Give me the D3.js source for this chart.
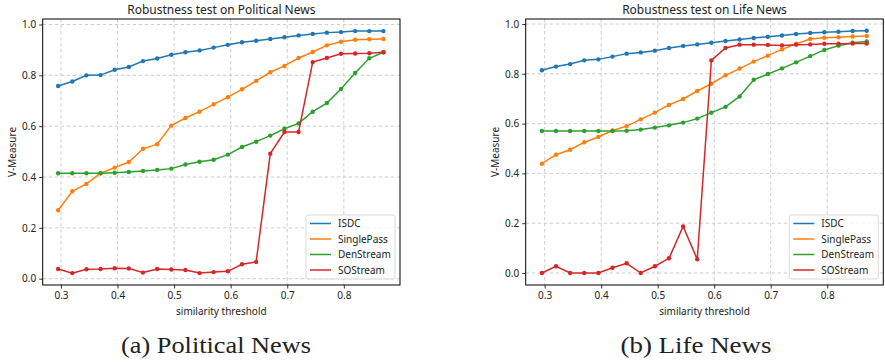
<!DOCTYPE html>
<html><head><meta charset="utf-8">
<script src="https://cdn.jsdelivr.net/npm/d3@7"></script>
<style>body{margin:0;background:#fff}svg{display:block}</style>
</head><body>
<svg id="c" width="885" height="362"></svg>
<script>
const thresholds = [0.295,0.32,0.345,0.37,0.395,0.42,0.445,0.47,0.495,0.52,0.545,0.57,0.595,0.62,0.645,0.67,0.695,0.72,0.745,0.77,0.795,0.82,0.845,0.87];
const seriesNames = ["ISDC","SinglePass","DenStream","SOStream"];
const colors = ["#1f77b4","#ff7f0e","#2ca02c","#d62728"];
const xTicks = [0.3,0.4,0.5,0.6,0.7,0.8];
const yTicks = [0.0,0.2,0.4,0.6,0.8,1.0];

const politicalISDC = [0.758,0.776,0.800,0.801,0.822,0.833,0.856,0.866,0.881,0.891,0.898,0.909,0.920,0.930,0.936,0.943,0.950,0.957,0.963,0.968,0.970,0.974,0.974,0.974];
const politicalSinglePass = [0.269,0.344,0.373,0.415,0.437,0.459,0.511,0.529,0.602,0.632,0.657,0.686,0.714,0.745,0.778,0.812,0.837,0.868,0.892,0.918,0.932,0.940,0.942,0.943];
const politicalDenStream = [0.415,0.415,0.415,0.415,0.417,0.420,0.424,0.428,0.433,0.449,0.460,0.468,0.488,0.518,0.539,0.563,0.590,0.611,0.657,0.691,0.746,0.809,0.867,0.891];
const politicalSOStream = [0.038,0.022,0.037,0.038,0.041,0.040,0.024,0.038,0.036,0.034,0.022,0.026,0.029,0.057,0.066,0.492,0.577,0.577,0.852,0.868,0.885,0.886,0.887,0.891];

const lifeISDC = [0.814,0.829,0.839,0.854,0.858,0.869,0.881,0.886,0.893,0.904,0.912,0.918,0.925,0.932,0.938,0.944,0.949,0.954,0.960,0.964,0.967,0.969,0.972,0.973];
const lifeSinglePass = [0.439,0.475,0.495,0.525,0.546,0.572,0.590,0.617,0.644,0.675,0.699,0.731,0.760,0.794,0.821,0.849,0.873,0.898,0.920,0.940,0.945,0.947,0.950,0.952];
const lifeDenStream = [0.570,0.570,0.570,0.570,0.570,0.570,0.571,0.576,0.584,0.593,0.604,0.620,0.644,0.667,0.709,0.776,0.799,0.822,0.846,0.871,0.896,0.913,0.925,0.930];
const lifeSOStream = [0.000,0.027,0.000,0.000,0.000,0.021,0.039,0.000,0.027,0.059,0.187,0.055,0.854,0.904,0.917,0.917,0.916,0.914,0.917,0.918,0.921,0.921,0.922,0.922];

const panels = [
  {title:"Robustness test on Political News", caption:"(a) Political News", capX:216, capW:190,
   series:[politicalISDC,politicalSinglePass,politicalDenStream,politicalSOStream],
   left:42.7,right:400,top:19,bottom:285,xd:[0.2677,0.8993],yd:[-0.0248,1.0216]},
  {title:"Robustness test on Life News", caption:"(b) Life News", capX:696, capW:151,
   series:[lifeISDC,lifeSinglePass,lifeDenStream,lifeSOStream],
   left:525.7,right:883.3,top:19,bottom:285,xd:[0.2664,0.8993],yd:[-0.0482,1.0201]}
];

const svg = d3.select("#c");
const sans = "'Noto Sans','Open Sans',sans-serif";

panels.forEach(p=>{
  const x = d3.scaleLinear().domain(p.xd).range([p.left,p.right]);
  const y = d3.scaleLinear().domain(p.yd).range([p.bottom,p.top]);
  const g = svg.append("g");
  // grid
  g.selectAll(".gx").data(xTicks).join("line")
    .attr("x1",d=>x(d)).attr("x2",d=>x(d)).attr("y1",p.top).attr("y2",p.bottom)
    .attr("stroke","#c8c8c8").attr("stroke-width",0.9).attr("stroke-dasharray","3.5,2.5");
  g.selectAll(".gy").data(yTicks).join("line")
    .attr("y1",d=>y(d)).attr("y2",d=>y(d)).attr("x1",p.left).attr("x2",p.right)
    .attr("stroke","#c8c8c8").attr("stroke-width",0.9).attr("stroke-dasharray","3.5,2.5");
  // axes
  const xa = g.append("g").attr("transform",`translate(0,${p.bottom})`)
    .call(d3.axisBottom(x).tickValues(xTicks).tickFormat(d3.format(".1f")).tickSize(3.5).tickPadding(3));
  const ya = g.append("g").attr("transform",`translate(${p.left},0)`)
    .call(d3.axisLeft(y).tickValues(yTicks).tickFormat(d3.format(".1f")).tickSize(3.5).tickPadding(3));
  [xa,ya].forEach(a=>{
    a.select(".domain").remove();
    a.selectAll("text").attr("font-family",sans).attr("font-size",10).attr("fill","#222");
    a.selectAll("line").attr("stroke","#000").attr("stroke-width",0.8);
  });
  // lines
  p.series.forEach((vals,si)=>{
    const pts = thresholds.map((t,i)=>[t,vals[i]]);
    g.append("path").datum(pts)
      .attr("d",d3.line().x(d=>x(d[0])).y(d=>y(d[1])))
      .attr("fill","none").attr("stroke",colors[si]).attr("stroke-width",1.5);
    g.selectAll(null).data(pts).join("circle")
      .attr("cx",d=>x(d[0])).attr("cy",d=>y(d[1])).attr("r",2.2).attr("fill",colors[si]);
  });
  // frame
  g.append("rect").attr("x",p.left).attr("y",p.top).attr("width",p.right-p.left).attr("height",p.bottom-p.top)
    .attr("fill","none").attr("stroke","#000").attr("stroke-width",1);
  // title
  g.append("text").attr("x",(p.left+p.right)/2).attr("y",p.top-5).attr("text-anchor","middle")
    .attr("font-family",sans).attr("font-size",12).attr("fill","#222").text(p.title);
  g.append("text").attr("x",(p.left+p.right)/2).attr("y",315).attr("text-anchor","middle")
    .attr("font-family",sans).attr("font-size",10).attr("fill","#222").text("similarity threshold");
  g.append("text").attr("transform",`translate(${p.left-27},${(p.top+p.bottom)/2}) rotate(-90)`)
    .attr("text-anchor","middle").attr("font-family",sans).attr("font-size",10).attr("fill","#222").text("V-Measure");
  g.append("text").attr("x",p.capX).attr("y",353).attr("text-anchor","middle")
    .attr("font-family","'Liberation Serif','DejaVu Serif',serif").attr("font-size",23).attr("fill","#222")
    .attr("textLength",p.capW).attr("lengthAdjust","spacingAndGlyphs").text(p.caption);
  // legend
  const lx = p.right - 94, ly = 215;
  const lg = g.append("g");
  lg.append("rect").attr("x",lx).attr("y",ly).attr("width",89).attr("height",64).attr("rx",2)
    .attr("fill","rgba(255,255,255,0.8)").attr("stroke","#d0d0d0").attr("stroke-width",0.8);
  seriesNames.forEach((n,i)=>{
    const yy = ly + 8.5 + i*15.5;
    lg.append("line").attr("x1",lx+4).attr("x2",lx+25).attr("y1",yy).attr("y2",yy)
      .attr("stroke",colors[i]).attr("stroke-width",1.5);
    lg.append("text").attr("x",lx+32).attr("y",yy+3.5).attr("font-family",sans).attr("font-size",10)
      .attr("fill","#222").text(n);
  });
});
</script>
</body></html>
